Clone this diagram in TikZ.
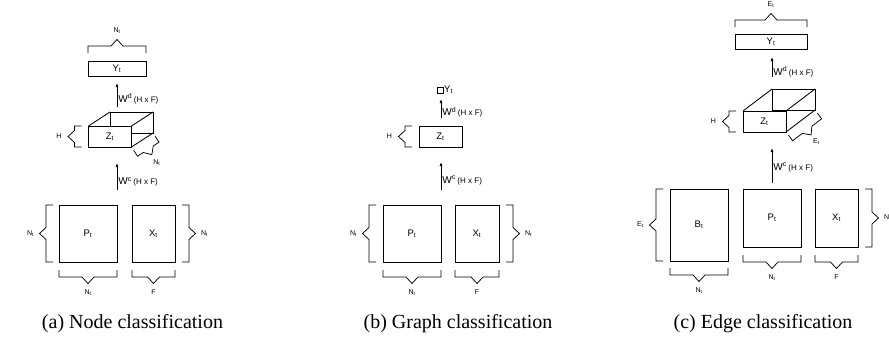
\documentclass[tikz,border=0pt]{standalone}
\usepackage{fontspec}
\setmainfont{Liberation Serif}
\newfontfamily\diagfont{Liberation Sans}
\usetikzlibrary{arrows.meta, calc, positioning}

\newcommand{\wlabel}[1]{{\fontsize{10}{10}\selectfont W\textsuperscript{#1}}\,{\fontsize{8}{8}\selectfont (H x F)}}

\tikzset{
  mat/.style     = {draw, line width=0.85pt, inner sep=0pt, outer sep=0pt,
                    font=\diagfont\fontsize{9.5}{9.5}\selectfont},
  flow/.style    = {-{Latex[length=4pt, width=3pt]}, line width=0.75pt},
  wlbl/.style    = {font=\diagfont, inner sep=1pt},
  bktline/.style = {line width=0.75pt},
  blbl/.style    = {font=\diagfont\fontsize{7}{7}\selectfont, inner sep=0pt},
  captext/.style = {font=\fontsize{20}{20}\selectfont, anchor=base, inner sep=0pt},
  pics/bkt/.style args = {#1/#2}{code={
    \draw[bktline] (0,0) -- (0,7) -- ({#1/2-6},7) -- ({#1/2},13.5) -- ({#1/2+6},7) -- (#1,7) -- (#1,0);
    \node[blbl] at ({#1/2},22.5) {#2};}},
}

\begin{document}
\begin{tikzpicture}[x=1pt, y=-1pt]
  \useasboundingbox (0,0) rectangle (889,349);

  % (a) node classification
  \node[mat, minimum width=58, minimum height=15] (aY) at (117,68.5) {Y\textsubscript{t}};
  \node[mat, minimum width=43, minimum height=21] (aZb) at (131.5,122.5) {};
  \node[mat, fill=white, minimum width=43, minimum height=21] (aZ) at (110,136.5) {Z\textsubscript{t}};
  \draw[line width=0.85pt] (aZ.north west) -- (aZb.north west) (aZ.north east) -- (aZb.north east)
    (aZ.south east) -- (aZb.south east);
  \node[mat, minimum width=58, minimum height=57] (aP) at (88,233.5) {P\textsubscript{t}};
  \node[mat, minimum width=43, minimum height=57] (aX) at (153.5,233.5) {X\textsubscript{t}};

  \coordinate (aWd0) at (117,107); \coordinate (aWd1) at (117,83);
  \coordinate (aWc0) at (117,190); \coordinate (aWc1) at (117,163);
  \draw[flow] (aWd0) -- (aWd1) node[wlbl, pos=0.35, right] {\wlabel{d}};
  \draw[flow] (aWc0) -- (aWc1) node[wlbl, pos=0.3, right] {\wlabel{c}};

  \pic[rotate=180] at ($(aY.north east)+(0,-8)$) {bkt={58/N\textsubscript{t}}};
  \pic[rotate=-90] at ($(aZ.north west)+(-7,0)$) {bkt={21/H}};
  \pic[rotate=33.1] at ($(aZ.south east)!4pt!-90:(aZb.south east)$) {bkt={25.7/N\textsubscript{t}}};
  \pic[rotate=-90] at ($(aP.north west)+(-6,0)$) {bkt={57/N\textsubscript{t}}};
  \pic[rotate=90] at ($(aX.south east)+(7,0)$) {bkt={57/N\textsubscript{t}}};
  \pic at ($(aP.south west)+(0,8)$) {bkt={58/N\textsubscript{t}}};
  \pic at ($(aX.south west)+(0,8)$) {bkt={43/F}};

  % (b) graph classification
  \node[mat, minimum size=6] (bY) at (440,90) {};
  \node[wlbl, font=\diagfont\fontsize{9.5}{9.5}\selectfont, right=0pt of bY] (bYl) {Y\textsubscript{t}};
  \node[mat, minimum width=43, minimum height=21] (bZ) at (440.5,136.5) {Z\textsubscript{t}};
  \node[mat, minimum width=58, minimum height=57] (bP) at (412,233.5) {P\textsubscript{t}};
  \node[mat, minimum width=44, minimum height=57] (bX) at (477,233.5) {X\textsubscript{t}};

  \coordinate (bWd0) at (441,118); \coordinate (bWd1) at (441,99);
  \coordinate (bWc0) at (441,190); \coordinate (bWc1) at (441,162);
  \draw[flow] (bWd0) -- (bWd1) node[wlbl, pos=0.3, right] {\wlabel{d}};
  \draw[flow] (bWc0) -- (bWc1) node[wlbl, pos=0.35, right] {\wlabel{c}};

  \pic[rotate=-90] at ($(bZ.north west)+(-7,0)$) {bkt={21/H}};
  \pic[rotate=-90] at ($(bP.north west)+(-7,0)$) {bkt={57/N\textsubscript{t}}};
  \pic[rotate=90] at ($(bX.south east)+(7,0)$) {bkt={57/N\textsubscript{t}}};
  \pic at ($(bP.south west)+(0,8)$) {bkt={58/N\textsubscript{t}}};
  \pic at ($(bX.south west)+(0,8)$) {bkt={44/F}};

  % (c) edge classification
  \node[mat, minimum width=72, minimum height=15] (cY) at (771,41.5) {Y\textsubscript{t}};
  \node[mat, minimum width=43, minimum height=21] (cZb) at (793.5,99.5) {};
  \node[mat, fill=white, minimum width=43, minimum height=21] (cZ) at (764.5,121.5) {Z\textsubscript{t}};
  \draw[line width=0.85pt] (cZ.north west) -- (cZb.north west) (cZ.north east) -- (cZb.north east)
    (cZ.south east) -- (cZb.south east);
  \node[mat, minimum width=58, minimum height=72] (cB) at (699,225) {B\textsubscript{t}};
  \node[mat, minimum width=58, minimum height=58] (cP) at (772,218) {P\textsubscript{t}};
  \node[mat, minimum width=43, minimum height=58] (cX) at (836.5,218) {X\textsubscript{t}};

  \coordinate (cWd0) at (772,77); \coordinate (cWd1) at (772,57);
  \coordinate (cWc0) at (772,183); \coordinate (cWc1) at (772,148);
  \draw[flow] (cWd0) -- (cWd1) node[wlbl, pos=0.25, right] {\wlabel{d}};
  \draw[flow] (cWc0) -- (cWc1) node[wlbl, pos=0.45, right] {\wlabel{c}};

  \pic[rotate=180] at ($(cY.north east)+(0,-7)$) {bkt={72/E\textsubscript{t}}};
  \pic[rotate=-90] at ($(cZ.north west)+(-7,0)$) {bkt={21/H}};
  \pic[rotate=37.2] at ($(cZ.south east)!4pt!-90:(cZb.south east)$) {bkt={36.4/E\textsubscript{t}}};
  \pic[rotate=-90] at ($(cB.north west)+(-7,0)$) {bkt={72/E\textsubscript{t}}};
  \pic[rotate=90] at ($(cX.south east)+(7,0)$) {bkt={58/N\textsubscript{t}}};
  \pic at ($(cB.south west)+(0,7)$) {bkt={58/N\textsubscript{t}}};
  \pic at ($(cP.south west)+(0,8)$) {bkt={58/N\textsubscript{t}}};
  \pic at ($(cX.south west)+(0,8)$) {bkt={43/F}};

  \foreach \cx/\cn/\ct in {132.5/a/{(a) Node classification}, 458/b/{(b) Graph classification},
                           763/c/{(c) Edge classification}}
    \node[captext] (cap-\cn) at (\cx,328) {\ct};
\end{tikzpicture}
\end{document}
